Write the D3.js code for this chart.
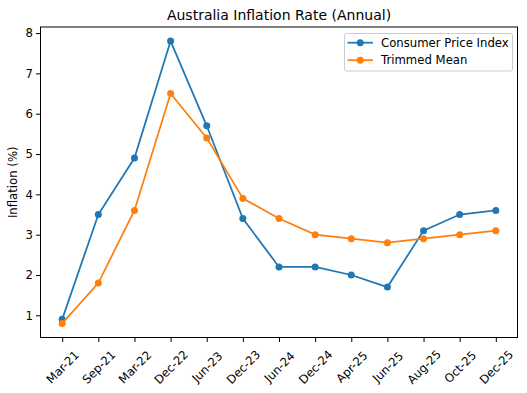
<!DOCTYPE html>
<html>
<head>
<meta charset="utf-8">
<script src="https://cdn.jsdelivr.net/npm/d3@7"></script>
<style>
body { margin: 0; background: #fff; }
text { font-family: "DejaVu Sans", sans-serif; fill: #000; }
</style>
</head>
<body>
<script>
var categories = ["Mar-21","Sep-21","Mar-22","Dec-22","Jun-23","Dec-23","Jun-24","Dec-24","Apr-25","Jun-25","Aug-25","Oct-25","Dec-25"];
var cpi = [0.9, 3.5, 4.9, 7.8, 5.7, 3.4, 2.2, 2.2, 2.0, 1.7, 3.1, 3.5, 3.6];
var trimmed = [0.8, 1.8, 3.6, 6.5, 5.4, 3.9, 3.4, 3.0, 2.9, 2.8, 2.9, 3.0, 3.1];
var yTicks = [1, 2, 3, 4, 5, 6, 7, 8];

var series = [
  {name: "Consumer Price Index", values: cpi, color: "#1f77b4"},
  {name: "Trimmed Mean", values: trimmed, color: "#ff7f0e"}
];

var width = 527, height = 393;
var mLeft = 40.5, mRight = 517.5, mTop = 27, mBottom = 337.5;
var fs = "11.7px";

var svg = d3.select("body").append("svg")
  .attr("width", width)
  .attr("height", height);

var xScale = d3.scaleLinear()
  .domain([-0.6, categories.length - 1 + 0.6])
  .range([mLeft, mRight]);

var yScale = d3.scaleLinear()
  .domain([0.45, 8.15])
  .range([mBottom, mTop]);

// x axis
var xAxis = svg.append("g")
  .attr("transform", "translate(0," + mBottom + ")")
  .call(d3.axisBottom(xScale)
    .tickValues(d3.range(categories.length))
    .tickFormat(function(i){ return categories[i]; })
    .tickSize(4.5).tickSizeOuter(0));
xAxis.select(".domain").remove();
xAxis.selectAll("text")
  .style("font-size", fs)
  .attr("text-anchor", "middle")
  .attr("dx", null)
  .attr("dy", "0.35em")
  .attr("y", 0)
  .attr("transform", "translate(0,29.5) rotate(-45)");

// y axis
var yAxis = svg.append("g")
  .attr("transform", "translate(" + mLeft + ",0)")
  .call(d3.axisLeft(yScale).tickValues(yTicks).tickSize(4.5).tickSizeOuter(0));
yAxis.select(".domain").remove();
yAxis.selectAll("text").style("font-size", fs).attr("x", -7.5);

// frame
svg.append("rect")
  .attr("x", mLeft).attr("y", mTop)
  .attr("width", mRight - mLeft).attr("height", mBottom - mTop)
  .attr("fill", "none").attr("stroke", "#000").attr("stroke-width", 1);

var line = d3.line()
  .x(function(d, i){ return xScale(i); })
  .y(function(d){ return yScale(d); });

series.forEach(function(s){
  svg.append("path")
    .datum(s.values)
    .attr("d", line)
    .attr("fill", "none")
    .attr("stroke", s.color)
    .attr("stroke-width", 1.75);
  svg.selectAll(null)
    .data(s.values)
    .enter()
    .append("circle")
    .attr("cx", function(d, i){ return xScale(i); })
    .attr("cy", function(d){ return yScale(d); })
    .attr("r", 3.5)
    .attr("fill", s.color);
});

// title
svg.append("text")
  .attr("x", (mLeft + mRight) / 2).attr("y", 20)
  .attr("text-anchor", "middle")
  .style("font-size", "14px")
  .text("Australia Inflation Rate (Annual)");

// y label
svg.append("text")
  .attr("transform", "translate(17," + ((mTop + mBottom) / 2) + ") rotate(-90)")
  .attr("text-anchor", "middle")
  .style("font-size", fs)
  .text("Inflation (%)");

// legend
var legend = svg.append("g");
legend.append("rect")
  .attr("x", 344.5).attr("y", 33.5)
  .attr("width", 168).attr("height", 37.5)
  .attr("rx", 2)
  .attr("fill", "#fff").attr("fill-opacity", 0.8)
  .attr("stroke", "#ccc");
series.forEach(function(s, i){
  var y = 42.7 + i * 17.5;
  legend.append("line")
    .attr("x1", 347.5).attr("x2", 373)
    .attr("y1", y).attr("y2", y)
    .attr("stroke", s.color).attr("stroke-width", 1.75);
  legend.append("circle")
    .attr("cx", 360.2).attr("cy", y).attr("r", 3.5)
    .attr("fill", s.color);
  legend.append("text")
    .attr("x", 381).attr("y", y + 4.2)
    .style("font-size", fs)
    .text(s.name);
});
</script>
</body>
</html>
